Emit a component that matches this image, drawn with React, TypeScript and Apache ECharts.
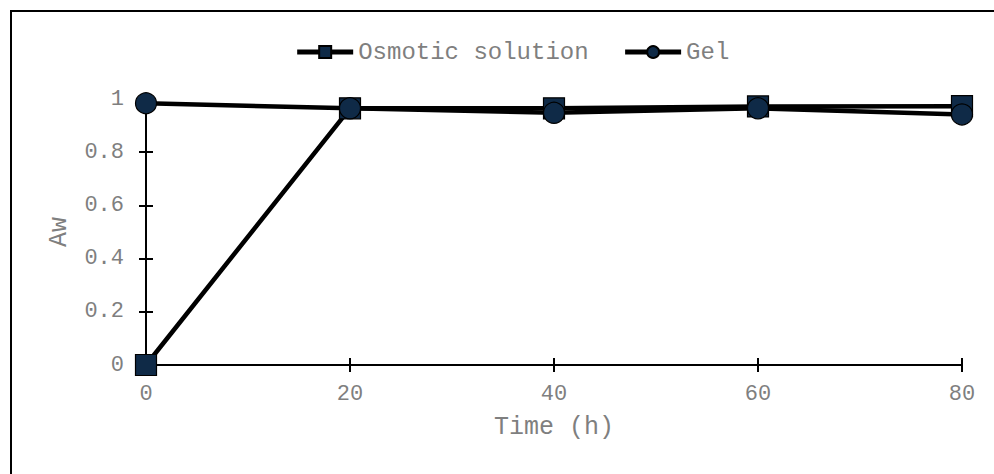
import React, { useEffect, useRef } from "react";
import * as echarts from "echarts";

const timeHours = [0, 20, 40, 60, 80];
const osmoticSolution = [0, 0.965, 0.965, 0.972, 0.973];
const gel = [0.984, 0.965, 0.948, 0.965, 0.942];
const seriesNames = ["Osmotic solution", "Gel"];

const FONT = "'Courier New', 'Nimbus Mono PS', 'Nimbus Mono L', FreeMono, 'Liberation Mono', monospace";
const GREY = "#7f7f7f";
const MARKER = "#0f2a47";

export default function App() {
  const ref = useRef<HTMLDivElement>(null);
  useEffect(() => {
    if (!ref.current) return;
    const chart = echarts.init(ref.current, undefined, { renderer: "svg" });
    const toPairs = (ys: number[]) => timeHours.map((t, i) => [t, ys[i]]);
    const baseX = { type: "value", min: 0, max: 80, interval: 20 };
    const baseY = { type: "value", min: 0, max: 1, interval: 0.2 };
    chart.setOption({
      animation: false,
      legend: {
        top: 23,
        left: "center",
        itemWidth: 56,
        itemHeight: 15,
        itemGap: 34,
        data: seriesNames,
        lineStyle: { width: 5, color: "#000" },
        textStyle: { fontFamily: FONT, fontSize: 24, color: GREY },
      },
      grid: { left: 134, right: 50, top: 87, bottom: 133, containLabel: false },
      xAxis: [
        {
          ...baseX,
          name: "Time (h)",
          nameLocation: "middle",
          nameGap: 50,
          nameTextStyle: { fontFamily: FONT, fontSize: 25, color: GREY },
          axisLine: { show: true, onZero: false, lineStyle: { color: "#000", width: 2 } },
          axisTick: { show: true, inside: false, length: 7, lineStyle: { color: "#000", width: 2 } },
          axisLabel: { margin: 18, fontFamily: FONT, fontSize: 22, color: GREY },
          splitLine: { show: false },
        },
        {
          ...baseX,
          position: "bottom",
          axisLine: { show: false, onZero: false },
          axisTick: { show: true, inside: true, length: 7, lineStyle: { color: "#000", width: 2 } },
          axisLabel: { show: false },
          splitLine: { show: false },
        },
      ],
      yAxis: [
        {
          ...baseY,
          name: "Aw",
          nameLocation: "middle",
          nameGap: 74,
          nameTextStyle: { fontFamily: FONT, fontSize: 25, color: GREY },
          axisLine: { show: true, onZero: false, lineStyle: { color: "#000", width: 2 } },
          axisTick: { show: true, inside: false, length: 7, lineStyle: { color: "#000", width: 2 } },
          axisLabel: {
            margin: 22,
            fontFamily: FONT,
            fontSize: 22,
            color: GREY,
            formatter: (v: number) => String(Math.round(v * 10) / 10),
          },
          splitLine: { show: false },
        },
        {
          ...baseY,
          position: "left",
          axisLine: { show: false, onZero: false },
          axisTick: { show: true, inside: true, length: 7, lineStyle: { color: "#000", width: 2 } },
          axisLabel: { show: false },
          splitLine: { show: false },
        },
      ],
      series: [
        {
          name: seriesNames[0],
          type: "line",
          data: toPairs(osmoticSolution),
          symbol: "rect",
          symbolSize: 21,
          showAllSymbol: true,
          lineStyle: { color: "#000", width: 4.5 },
          itemStyle: { color: MARKER, borderColor: "#000", borderWidth: 1.2 },
          z: 3,
        },
        {
          name: seriesNames[1],
          type: "line",
          data: toPairs(gel),
          symbol: "circle",
          symbolSize: 21,
          showAllSymbol: true,
          lineStyle: { color: "#000", width: 4.5 },
          itemStyle: { color: MARKER, borderColor: "#000", borderWidth: 1.2 },
          z: 4,
        },
      ],
    });
    return () => chart.dispose();
  }, []);

  return (
    <div
      style={{
        position: "fixed",
        left: 0,
        top: 0,
        width: 994,
        height: 474,
        overflow: "hidden",
        background: "#fff",
      }}
    >
      <div
        style={{
          position: "absolute",
          left: 10,
          top: 10,
          width: 1004,
          height: 490,
          border: "2px solid #000",
          boxSizing: "border-box",
        }}
      >
        <div ref={ref} style={{ width: 1000, height: 486 }} />
      </div>
    </div>
  );
}
